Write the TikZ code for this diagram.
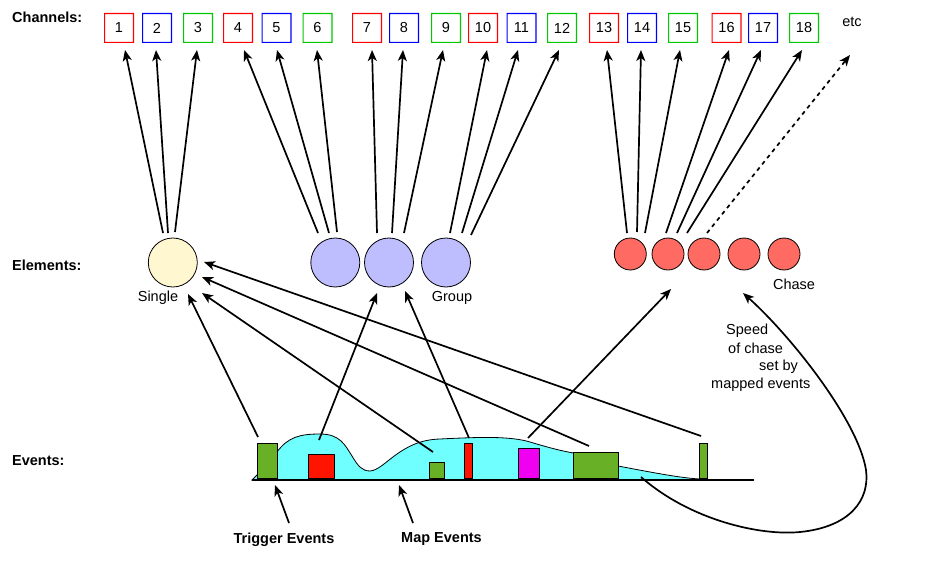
\documentclass[tikz,border=0pt]{standalone}
\usepackage{fontspec}
\setmainfont{Liberation Sans}
\usetikzlibrary{arrows.meta,calc}
\definecolor{bred}{RGB}{255,0,0}
\definecolor{bblue}{RGB}{0,0,255}
\definecolor{bgreen}{RGB}{0,200,0}
\definecolor{singlecol}{RGB}{255,247,208}
\definecolor{groupcol}{RGB}{190,190,255}
\definecolor{chasecol}{RGB}{255,106,98}
\definecolor{cyancol}{RGB}{112,255,255}
\definecolor{evgreen}{RGB}{104,177,38}
\definecolor{evred}{RGB}{255,20,0}
\definecolor{evmag}{RGB}{240,0,240}
\newcommand\fsz{\fontsize{14.5}{17}\selectfont}
\newcommand\chbox[4]{%
  \node[chan] (#1) at (#2,28) {#4};
  \fill[#3, even odd rule] (#1.north west) rectangle (#1.south east)
    ([xshift=1.1pt,yshift=-1.1pt]#1.north west) rectangle ([xshift=-1.1pt,yshift=1.1pt]#1.south east);}
\begin{document}
\begin{tikzpicture}[x=1pt,y=-1pt,
  txt/.style={font=\fsz, inner sep=0pt},
  hdr/.style={font=\fsz\bfseries, inner sep=0pt},
  chan/.style={fill=white, minimum size=30pt, inner sep=0pt, outer sep=0pt, font=\fsz},
  elem/.style={circle, draw, line width=0.8pt, inner sep=0pt},
  ev/.style={draw, line width=0.9pt, inner sep=0pt},
  arr/.style={line width=1.7pt, -{Stealth[length=11pt,width=9pt,inset=3pt]}}]
\useasboundingbox (0,0) rectangle (941,580);

% labels
\node[hdr, anchor=west] (lch) at (12,17.5) {Channels:};
\node[hdr, anchor=west] (lel) at (12,265) {Elements:};
\node[hdr, anchor=west] (lev) at (12,461) {Events:};

% channels
\chbox{c1}{119}{bred}{1}
\chbox{c2}{157}{bblue}{2}
\chbox{c3}{198}{bgreen}{3}
\chbox{c4}{238}{bred}{4}
\chbox{c5}{276.5}{bblue}{5}
\chbox{c6}{317.5}{bgreen}{6}
\chbox{c7}{367}{bred}{7}
\chbox{c8}{404}{bblue}{8}
\chbox{c9}{446}{bgreen}{9}
\chbox{c10}{483}{bred}{10}
\chbox{c11}{521.5}{bblue}{11}
\chbox{c12}{562}{bgreen}{12}
\chbox{c13}{604}{bred}{13}
\chbox{c14}{642}{bblue}{14}
\chbox{c15}{683}{bgreen}{15}
\chbox{c16}{726.5}{bred}{16}
\chbox{c17}{763}{bblue}{17}
\chbox{c18}{804}{bgreen}{18}
\node[txt] (etc) at (852,22) {etc};

% elements
\node[elem, fill=singlecol, minimum size=49pt] (s) at (172.8,262.5) {};
\node[elem, fill=groupcol, minimum size=49pt] (g1) at (335.3,262.5) {};
\node[elem, fill=groupcol, minimum size=49pt] (g2) at (389,262.5) {};
\node[elem, fill=groupcol, minimum size=49pt] (g3) at (446,262.5) {};
\node[elem, fill=chasecol, minimum size=32pt] (h1) at (630.3,254) {};
\node[elem, fill=chasecol, minimum size=32pt] (h2) at (668,254) {};
\node[elem, fill=chasecol, minimum size=32pt] (h3) at (704,254) {};
\node[elem, fill=chasecol, minimum size=32pt] (h4) at (744,254) {};
\node[elem, fill=chasecol, minimum size=32pt] (h5) at (784,254) {};
\node[txt] (ls) at (158,298) {Single};
\node[txt] (lg) at (452,298) {Group};
\node[txt] (lc) at (794,284) {Chase};
\node[txt, anchor=west] (sp1) at (726,331) {Speed};
\node[txt, anchor=west] (sp2) at (728,348.5) {of chase};
\node[txt, anchor=west] (sp3) at (759,367) {set by};
\node[txt, anchor=west] (sp4) at (711,384.5) {mapped events};

% element -> channel arrows
\draw[arr] ($(s)+(-9.8,-29.5)$) -- ($(c1)+(6,22)$);
\draw[arr] ($(s)+(-4.8,-29.5)$) -- ($(c2)+(-1,22)$);
\draw[arr] ($(s)+(2.2,-30.5)$) -- ($(c3)+(-1,22)$);
\draw[arr] ($(g1)+(-17.3,-29.5)$) -- ($(c4)+(6,22)$);
\draw[arr] ($(g1)+(-6.3,-29.5)$) -- ($(c5)+(0.5,22)$);
\draw[arr] ($(g1)+(1.7,-30.5)$) -- ($(c6)+(-0.5,22)$);
\draw[arr] ($(g2)+(-12,-29.5)$) -- ($(c7)+(5,22)$);
\draw[arr] ($(g2)+(3,-29.5)$) -- ($(c8)+(-1,22)$);
\draw[arr] ($(g2)+(15,-29.5)$) -- ($(c9)+(-3,22)$);
\draw[arr] ($(g3)+(4,-29.5)$) -- ($(c10)+(4,22)$);
\draw[arr] ($(g3)+(16,-29.5)$) -- ($(c11)+(-3.5,22)$);
\draw[arr] ($(g3)+(25,-27.5)$) -- ($(c12)+(-3,22)$);
\draw[arr] ($(h1)+(-3.3,-21)$) -- ($(c13)+(3,22)$);
\draw[arr] ($(h1)+(6.7,-22)$) -- ($(c14)+(-1,22)$);
\draw[arr] ($(h1)+(14.7,-21)$) -- ($(c15)+(-3,22)$);
\draw[arr] ($(h2)+(-2,-21)$) -- ($(c16)+(2.5,22)$);
\draw[arr] ($(h2)+(9,-21)$) -- ($(c17)+(-2,22)$);
\draw[arr] ($(h2)+(19,-21)$) -- ($(c18)+(-2,22)$);
\draw[arr, dash pattern=on 4pt off 4pt] ($(h3)+(3,-21)$) -- ($(etc)+(-2,33)$);

% events area
\draw[line width=0.8pt, fill=cyancol]
  (252,480) -- (262,470) -- (277,452)
  .. controls (288,437) and (300,434) .. (320,434)
  .. controls (340,434) and (345,445) .. (352,456)
  .. controls (358,466) and (362,471) .. (370,471)
  .. controls (385,470) and (400,440) .. (440,439)
  .. controls (480,437) and (510,436) .. (530,442)
  .. controls (550,448) and (565,452) .. (580,454)
  -- (618,466)
  .. controls (650,472) and (680,478) .. (700,479)
  -- (700,480) -- cycle;
\draw[line width=1.2pt] (252,480) coordinate (b0) -- (754,480) coordinate (b1);
\coordinate (mapbase) at (399,485);
\coordinate (cstart) at (641,477);

\node[ev, fill=evgreen, minimum width=20pt, minimum height=35pt] (e1) at (267,460.5) {};
\node[ev, fill=evred, minimum width=26pt, minimum height=24pt] (e2) at (321,466) {};
\node[ev, fill=evgreen, minimum width=15pt, minimum height=16pt] (e3) at (436.5,470) {};
\node[ev, fill=evred, minimum width=8pt, minimum height=35pt] (e4) at (468,460.5) {};
\node[ev, fill=evmag, minimum width=21pt, minimum height=30pt] (e5) at (528.5,463) {};
\node[ev, fill=evgreen, minimum width=45pt, minimum height=26pt] (e6) at (595.5,465) {};
\node[ev, fill=evgreen, minimum width=8pt, minimum height=35pt] (e7) at (703,460.5) {};

\node[hdr] (te) at (284,539.5) {Trigger Events};
\node[hdr] (me) at (441.5,539) {Map Events};

% event -> element arrows
\draw[arr] ($(e1)+(-9,-23.5)$) -- ($(s)+(15.2,31.5)$);
\draw[arr] ($(e2)+(-2,-26)$) -- ($(g2)+(-12,30.5)$);
\draw[arr] ($(e3)+(-3.5,-18)$) -- ($(s)+(29.2,30.5)$);
\draw[arr] ($(e4)+(1,-22.5)$) -- ($(g2)+(16,28.5)$);
\draw[arr] ($(e5)+(-0.5,-25)$) -- ($(h2)+(3,35)$);
\draw[arr] ($(e6)+(-6.5,-19)$) -- ($(s)+(29.2,14.5)$);
\draw[arr] ($(e7)+(-2,-24.5)$) -- ($(s)+(31.2,-0.5)$);

\draw[arr] ($(te)+(5,-16.5)$) -- ($(e1)+(8,24.5)$);
\draw[arr] ($(me)+(-28.5,-16)$) -- (mapbase);

\draw[arr] (cstart) .. controls (690,520) and (760,536) .. (800,532)
  .. controls (850,527) and (870,500) .. (866,470)
  .. controls (858,420) and (790,335) .. ($(h4)+(-1,39)$);
\end{tikzpicture}
\end{document}
